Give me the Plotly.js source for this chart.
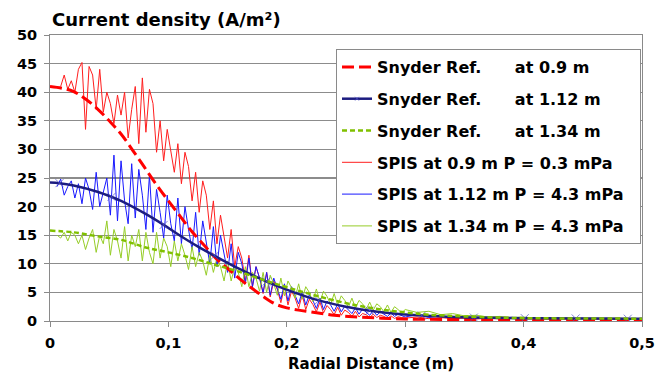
<!DOCTYPE html>
<html><head><meta charset="utf-8">
<script src="https://cdn.plot.ly/plotly-3.0.1.min.js"></script>
<style>html,body{margin:0;padding:0;background:#fff}#chart{width:664px;height:374px}</style>
</head><body><div id="chart"></div>
<script>
// ---- data ----
const snyderRedX = [0,0.01,0.02,0.03,0.04,0.05,0.06,0.07,0.08,0.09,0.10,0.11,0.12,0.13,0.14,0.15,0.16,0.17,0.18,0.19,0.20,0.21,0.22,0.24,0.26,0.28,0.30,0.35,0.40,0.45,0.50];
const snyderRedY = [41,40.7,40.1,38.8,37.1,35,32.7,29.8,26.8,23.8,21,18.3,15.6,13.3,11.0,9.2,7.4,5.8,4.3,3.0,2.3,1.9,1.6,1.0,0.7,0.5,0.35,0.25,0.2,0.2,0.2];

const snyderBlueX = [0,0.008,0.02,0.04,0.052,0.06,0.08,0.096,0.11,0.125,0.139,0.16,0.183,0.205,0.227,0.25,0.27,0.29,0.314,0.335,0.358,0.401,0.444,0.488,0.5];
const snyderBlueY = [24.2,24.1,23.7,22.6,21.7,21.0,18.8,16.8,14.9,13.0,11.4,9.1,6.9,5.1,3.6,2.5,1.8,1.3,0.95,0.75,0.6,0.5,0.45,0.4,0.4];
const snyderBlueMarkerX = [0.008,0.052,0.096,0.139,0.183,0.227,0.27,0.314,0.358,0.401,0.444,0.488];

const snyderGreenX = [0,0.02,0.04,0.06,0.08,0.10,0.12,0.14,0.16,0.18,0.20,0.22,0.24,0.26,0.28,0.30,0.32,0.35,0.40,0.45,0.50];
const snyderGreenY = [15.8,15.5,14.8,14.2,12.9,12.0,11.0,9.8,8.6,7.2,5.9,4.7,3.6,2.7,2.0,1.5,1.1,0.8,0.5,0.45,0.4];

// SPIS samples: dense part from 0.006 in steps of 0.003 (98 samples), then 0.30..0.50 in steps of 0.01
const spisDenseStart = 0.006, spisDenseStep = 0.003, spisDenseCount = 98;
const spisTailStart = 0.30, spisTailStep = 0.01, spisTailCount = 21;

const spisRedY = [null,41,43,40.5,42,40,44,45.2,33.5,44.5,43,37,44,36.5,40,38,34.5,39.5,36,40,32,37,41,31,42.5,33,40.5,38,29.5,35,
  28,33.5,30,26,31,24,29.5,27,21,26,19,24.5,22,16,21,13.5,18.5,15,11,16,9.5,13,11,7,11.5,6,9.5,7.5,4.8,8.5,
  4.2,7,5.5,3.2,6,2.8,5.2,4,2.2,4.6,2,3.8,2.9,1.6,3.3,1.4,2.7,2,1.1,2.4,1,1.9,1.5,0.8,1.7,0.7,1.3,1.1,0.6,1.2,
  0.6,1,0.8,0.45,0.9,0.45,0.75,0.6,
  0.5,0.7,0.4,0.6,0.4,0.5,0.35,0.5,0.35,0.45,0.3,0.45,0.3,0.4,0.3,0.4,0.3,0.35,0.3,0.35,0.3];

const spisBlueY = [23.5,24.8,22,23.5,24.5,21.5,24,20.5,25,23,19.5,26,20,22.5,25,18.5,29,17.5,28,21,17,27.5,18,26.5,22,16,25.5,15.5,23,19,
  14.5,22,17,14,21.5,13.5,20,16,12.5,19,11.5,17.5,14,10,16.5,9.5,15,12,8.5,13.5,7.5,12,10,6.5,11,6,9.5,7.5,5,8.5,
  4.5,7.5,5.8,3.8,6.5,3.5,6,4.6,3,5.2,2.8,4.6,3.6,2.2,4,2,3.5,2.8,1.7,3,1.6,2.6,2,1.3,2.3,1.2,2.1,1.6,1,1.8,
  1,1.6,1.2,0.8,1.4,0.8,1.2,1,
  0.7,1.1,0.6,0.9,0.55,0.8,0.5,0.7,0.45,0.65,0.4,0.6,0.4,0.55,0.4,0.5,0.35,0.5,0.35,0.45,0.35];

const spisGreenY = [15,14.5,15.5,14,15.5,15,13.5,15,12.5,14.5,16,12,15,13.5,17.5,11.5,16,14,11,16.5,10.5,15,13,16,10.5,15.5,12,10,15.5,11,
  14.5,13,9.5,14,10.5,13.5,11.5,9,13,9.5,12,10.5,8,11.5,8.5,11,9.5,7,10.5,7,9.5,8.5,6,9.5,6,8.5,7.5,5.2,8.5,5,
  8,6.5,4.5,7.5,4.4,7,5.8,4,6.5,3.8,6,5,3.4,5.6,3.3,5.2,4.3,2.9,4.8,2.8,4.4,3.6,2.4,4,2.3,3.6,3,2,3.3,1.9,
  3,2.5,1.6,2.8,1.5,2.5,2,1.4,
  2.0,1.5,1.7,1.1,1.3,0.9,1.0,0.7,0.8,0.6,0.7,0.5,0.6,0.5,0.55,0.45,0.5,0.4,0.5,0.4,0.45];

const xTickVals = [0,0.1,0.2,0.3,0.4,0.5];
const yTickVals = [0,5,10,15,20,25,30,35,40,45,50];

// ---- build sample grid ----
const spisX = [];
for (let i = 0; i < spisDenseCount; i++) spisX.push(+(spisDenseStart + i*spisDenseStep).toFixed(4));
for (let i = 0; i < spisTailCount; i++) spisX.push(+(spisTailStart + i*spisTailStep).toFixed(4));

const NB = '\u00a0';
const gap = NB.repeat(5);
const fontFam = 'DejaVu Sans, Arial, sans-serif';

const blueMarkerSizes = snyderBlueX.map(x => snyderBlueMarkerX.indexOf(x) >= 0 ? 8 : 0);

const traces = [
  {x: spisX, y: spisRedY, mode: 'lines', name: 'SPIS at 0.9 m P = 0.3 mPa', legendrank: 4, legendgroup: 'g4',
   line: {color: 'rgb(255,30,30)', width: 1}, connectgaps: false},
  {x: spisX, y: spisBlueY, mode: 'lines', name: 'SPIS at 1.12 m P = 4.3 mPa' + NB + NB, legendrank: 5, legendgroup: 'g5',
   line: {color: 'rgb(25,25,255)', width: 1}},
  {x: spisX, y: spisGreenY, mode: 'lines', name: 'SPIS at 1.34 m P = 4.3 mPa', legendrank: 6, legendgroup: 'g6',
   line: {color: 'rgb(150,205,40)', width: 1}},
  {x: snyderRedX, y: snyderRedY, mode: 'lines', name: 'Snyder Ref.' + gap + ' at 0.9 m', legendrank: 1, legendgroup: 'g1',
   line: {color: '#ff0000', width: 3, dash: '12px,5px', shape: 'spline'}},
  {x: snyderBlueX, y: snyderBlueY, mode: 'lines+markers', name: 'Snyder Ref.' + gap + ' at 1.12 m', legendrank: 2, legendgroup: 'g2',
   line: {color: '#1c1c80', width: 2.5, shape: 'spline'},
   marker: {symbol: 'x-thin-open', size: blueMarkerSizes, color: '#5050c8', line: {color: '#5050c8', width: 1}}},
  {x: snyderGreenX, y: snyderGreenY, mode: 'lines', name: 'Snyder Ref.' + gap + ' at 1.34 m', legendrank: 3, legendgroup: 'g3',
   line: {color: '#80c000', width: 2.5, dash: '5px,3px', shape: 'spline'}}
];

const axisCommon = {
  showline: true, linecolor: '#8a8a8a', linewidth: 1, mirror: true,
  ticks: 'outside', ticklen: 5, tickcolor: '#8a8a8a', tickwidth: 1,
  zeroline: false,
  tickfont: {family: fontFam, size: 14.5, color: '#000', weight: 'bold'}
};

const layout = {
  width: 664, height: 374,
  margin: {l: 50, r: 22, t: 35, b: 53},
  paper_bgcolor: '#fff', plot_bgcolor: '#fff',
  separators: ',.',
  showlegend: true,
  title: {text: 'Current density (A/m²)', xref: 'container', yref: 'container', x: 52/664, xanchor: 'left',
          y: 1 - 20/374, yanchor: 'middle', font: {family: fontFam, size: 18, color: '#000', weight: 'bold'}},
  xaxis: Object.assign({}, axisCommon, {range: [0, 0.5], tickvals: xTickVals, showgrid: false, ticklabelstandoff: 4}),
  yaxis: Object.assign({}, axisCommon, {range: [0, 50], tickvals: yTickVals, showgrid: true, gridcolor: '#8c8c8c', gridwidth: 1.2, ticklabelstandoff: 4}),
  legend: {x: (336-50)/592, y: (321-49)/286, xanchor: 'left', yanchor: 'top', bgcolor: '#fff',
           bordercolor: '#8a8a8a', borderwidth: 1, tracegroupgap: 8,
           font: {family: fontFam, size: 16, color: '#000', weight: 'bold'}},
  annotations: [{text: 'Radial Distance (m)', xref: 'paper', yref: 'paper', x: (371-50)/592, y: (321-364)/286,
                 xanchor: 'center', yanchor: 'middle', showarrow: false,
                 font: {family: fontFam, size: 15, color: '#000', weight: 'bold'}}]
};

Plotly.newPlot('chart', traces, layout, {displayModeBar: false, staticPlot: true});
</script>
</body></html>
